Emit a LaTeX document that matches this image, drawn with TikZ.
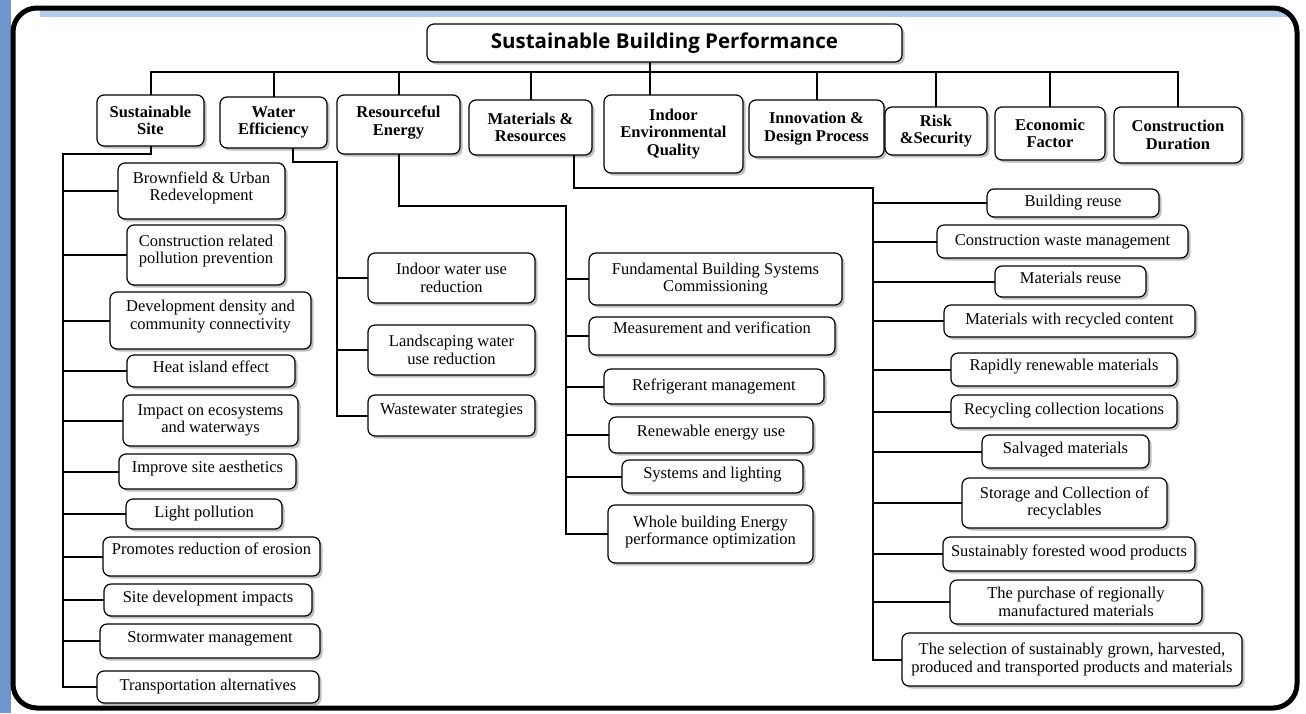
\documentclass[tikz,border=0pt]{standalone}
\usepackage{fontspec}
\setmainfont{Liberation Serif}
\newfontfamily\titlefont{Open Sans}
\usetikzlibrary{shadows}
\definecolor{shotblue}{HTML}{6F95CF}
\definecolor{skyband}{HTML}{B4CBEA}

\begin{document}
\begin{tikzpicture}[x=1pt,y=-1pt,inner sep=0pt,outer sep=0pt,
link/.style={line width=2pt},
box/.style={draw,rectangle,rounded corners=7pt,fill=white,line width=1.2pt,align=center,
  drop shadow={shadow xshift=2.5pt,shadow yshift=-2.5pt,fill=black!50}},
lift/.style={text depth=#1pt},
topbox/.style={box,font=\titlefont\bfseries\fontsize{20.5}{24}\selectfont},
catbox/.style={box,font=\bfseries\fontsize{16.5}{17.5}\selectfont},
leafbox/.style={box,font=\fontsize{16.5}{17.5}\selectfont}]

\useasboundingbox (0,0) rectangle (1306,713);
\fill[white] (0,0) rectangle (1306,713);
\fill[shotblue] (0,0) rectangle (11,713);
\fill[skyband] (40,10) rectangle (1290,17);
\draw[line width=5pt,rounded corners=24pt] (13,8) rectangle (1297,708);

\node[topbox,minimum width=475pt,minimum height=38pt] (sbp) at (664.5,43) {Sustainable Building Performance};

\node[catbox,minimum width=107pt,minimum height=51pt] (ss) at (150.5,120.5) {Sustainable\\Site};
\node[catbox,minimum width=107pt,minimum height=51pt] (we) at (273.5,122.5) {Water\\Efficiency};
\node[catbox,minimum width=123pt,minimum height=59pt,lift=8] (re) at (398.5,124.5) {Resourceful\\Energy};
\node[catbox,minimum width=123pt,minimum height=55pt] (mr) at (530.5,127.5) {Materials \&\\Resources};
\node[catbox,minimum width=139pt,minimum height=78pt] (ieq) at (673.5,134) {Indoor\\Environmental\\Quality};
\node[catbox,minimum width=135pt,minimum height=57pt] (idp) at (816.5,128.5) {Innovation \&\\Design Process};
\node[catbox,minimum width=102pt,minimum height=48pt] (rs) at (936,131) {Risk\\\&Security};
\node[catbox,minimum width=110pt,minimum height=53pt] (ef) at (1050,133.5) {Economic\\Factor};
\node[catbox,minimum width=128pt,minimum height=56pt] (cd) at (1178,135) {Construction\\Duration};

\node[leafbox,minimum width=167pt,minimum height=56pt,lift=10] (bf) at (201.5,191) {Brownfield \& Urban\\Redevelopment};
\node[leafbox,minimum width=158pt,minimum height=60pt,lift=11] (crp) at (206,255) {Construction related\\pollution prevention};
\node[leafbox,minimum width=201pt,minimum height=57pt,lift=11] (ddc) at (210.5,320.5) {Development density and\\community connectivity};
\node[leafbox,minimum width=168pt,minimum height=32pt,lift=8] (hie) at (211,371) {Heat island effect};
\node[leafbox,minimum width=175pt,minimum height=51pt] (ioe) at (210.5,420.5) {Impact on ecosystems\\and waterways};
\node[leafbox,minimum width=177pt,minimum height=35pt,lift=10] (isa) at (207.5,471.5) {Improve site aesthetics};
\node[leafbox,minimum width=156pt,minimum height=30pt] (lp) at (204,514) {Light pollution};
\node[leafbox,minimum width=217pt,minimum height=39pt,lift=15] (pre) at (211.5,556.5) {Promotes reduction of erosion};
\node[leafbox,minimum width=208pt,minimum height=32pt,lift=6] (sdi) at (208,600) {Site development impacts};
\node[leafbox,minimum width=220pt,minimum height=34pt,lift=8] (swm) at (210,641) {Stormwater management};
\node[leafbox,minimum width=222pt,minimum height=32pt] (ta) at (208,687) {Transportation alternatives};

\node[leafbox,minimum width=167pt,minimum height=50pt] (iwr) at (451.5,278) {Indoor water use\\reduction};
\node[leafbox,minimum width=167pt,minimum height=50pt] (lwr) at (451.5,350) {Landscaping water\\use reduction};
\node[leafbox,minimum width=167pt,minimum height=41pt,lift=12] (wws) at (451.5,415.5) {Wastewater strategies};

\node[leafbox,minimum width=253pt,minimum height=52pt] (fbs) at (715.5,279) {Fundamental Building Systems\\Commissioning};
\node[leafbox,minimum width=246pt,minimum height=38pt,lift=16] (mav) at (712,336) {Measurement and verification};
\node[leafbox,minimum width=220pt,minimum height=35pt] (rfm) at (714,386.5) {Refrigerant management};
\node[leafbox,minimum width=204pt,minimum height=36pt,lift=8] (reu) at (711,435) {Renewable energy use};
\node[leafbox,minimum width=181pt,minimum height=33pt,lift=8] (sal) at (712.5,476.5) {Systems and lighting};
\node[leafbox,minimum width=205pt,minimum height=58pt,lift=7] (wbe) at (710.5,534) {Whole building Energy\\performance optimization};

\node[leafbox,minimum width=172pt,minimum height=28pt] (bru) at (1073,203) {Building reuse};
\node[leafbox,minimum width=251pt,minimum height=33pt] (cwm) at (1062.5,241.5) {Construction waste management};
\node[leafbox,minimum width=151pt,minimum height=31pt,lift=8] (mru) at (1070.5,281.5) {Materials reuse};
\node[leafbox,minimum width=251pt,minimum height=32pt] (mrc) at (1069.5,321) {Materials with recycled content};
\node[leafbox,minimum width=226pt,minimum height=33pt,lift=10] (rrm) at (1064,369.5) {Rapidly renewable materials};
\node[leafbox,minimum width=226pt,minimum height=33pt,lift=6] (rcl) at (1064,411.5) {Recycling collection locations};
\node[leafbox,minimum width=167pt,minimum height=33pt,lift=8] (svm) at (1065.5,451.5) {Salvaged materials};
\node[leafbox,minimum width=205pt,minimum height=50pt] (scr) at (1064.5,503) {Storage and Collection of\\recyclables};
\node[leafbox,minimum width=252pt,minimum height=34pt,lift=6] (sfw) at (1069,554) {Sustainably forested wood products};
\node[leafbox,minimum width=252pt,minimum height=44pt] (prm) at (1076,602) {The purchase of regionally\\manufactured materials};
\node[leafbox,minimum width=340pt,minimum height=53pt] (sel) at (1072,659.5) {The selection of sustainably grown, harvested,\\produced and transported products and materials};

\coordinate (bus) at (0,72);
\draw[link] (ss.north) |- (cd.north |- bus) -- (cd.north);
\coordinate (sbpdrop) at ([xshift=-14.5pt]sbp.south);
\draw[link] (sbpdrop) -- (sbpdrop |- ieq.north);
\foreach \c in {we,re,mr,idp,rs,ef}
  \draw[link] (\c.north) -- (\c.north |- bus);

\coordinate (sstrunk) at (63,154);
\draw[link] (ss.south) |- (sstrunk) -- (sstrunk |- ta.west) -- (ta.west);
\foreach \l in {bf,crp,ddc,hie,ioe,isa,lp,pre,sdi,swm}
  \draw[link] (sstrunk |- \l.west) -- (\l.west);

\coordinate (wedrop) at ([xshift=19.5pt]we.south);
\coordinate (wetrunk) at (337,162);
\draw[link] (wedrop) |- (wetrunk) -- (wetrunk |- wws.west) -- (wws.west);
\foreach \l in {iwr,lwr}
  \draw[link] (wetrunk |- \l.west) -- (\l.west);

\coordinate (retrunk) at (566,206);
\draw[link] (re.south) |- (retrunk) -- (retrunk |- wbe.west) -- (wbe.west);
\foreach \l in {fbs,mav,rfm,reu,sal}
  \draw[link] (retrunk |- \l.west) -- (\l.west);

\coordinate (mrdrop) at ([xshift=43.5pt]mr.south);
\coordinate (mrtrunk) at (873,188);
\draw[link] (mrdrop) |- (mrtrunk) -- (mrtrunk |- sel.west) -- (sel.west);
\foreach \l in {bru,cwm,mru,mrc,rrm,rcl,svm,scr,sfw,prm}
  \draw[link] (mrtrunk |- \l.west) -- (\l.west);
\end{tikzpicture}
\end{document}
